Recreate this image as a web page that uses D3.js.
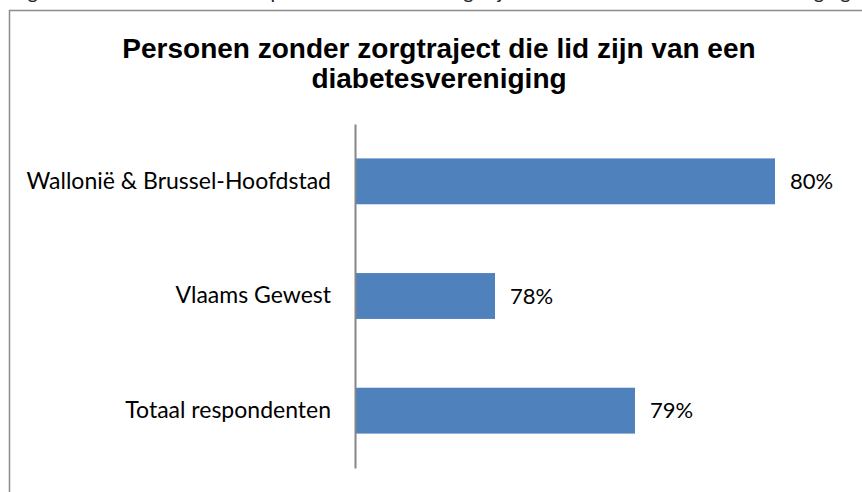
<!DOCTYPE html>
<html>
<head>
<meta charset="utf-8">
<script src="https://cdn.jsdelivr.net/npm/d3@7"></script>
<style>
  body { margin: 0; background: #fff; }
  svg { display: block; }
</style>
</head>
<body>
<svg id="chart" width="862" height="492"></svg>
<script>
// data
var categories = ["Wallonië & Brussel-Hoofdstad", "Vlaams Gewest", "Totaal respondenten"];
var values = [80, 78, 79];
var valueLabels = ["80%", "78%", "79%"];
var titleLines = ["Personen zonder zorgtraject die lid zijn van een", "diabetesvereniging"];
var captionAbove = "Figuur 12: Aandeel van de respondenten zonder zorgtraject dat lid is van een diabetesvereniging";

var svg = d3.select("#chart"),
    width = 862,
    height = 492;

var margin = {left: 355, top: 124, right: 17, bottom: 24};

// caption of the page above the chart, cropped by the picture's top edge
svg.append("text")
  .attr("x", 431)
  .attr("y", -1)
  .attr("text-anchor", "middle")
  .attr("font-family", "Lato, 'Open Sans', sans-serif")
  .attr("font-size", 20)
  .attr("fill", "#222")
  .text(captionAbove);

// chart frame
svg.append("rect")
  .attr("x", 9.5)
  .attr("y", 10.5)
  .attr("width", 900)
  .attr("height", 600)
  .attr("fill", "white")
  .attr("stroke", "#8c8c8c")
  .attr("stroke-width", 1.5);

// title
svg.append("g").selectAll("text")
  .data(titleLines)
  .enter().append("text")
  .attr("x", 439)
  .attr("y", function(d, i) { return 58 + i * 30; })
  .attr("text-anchor", "middle")
  .attr("font-family", "'Liberation Sans', Arial, sans-serif")
  .attr("font-weight", "bold")
  .attr("font-size", 28)
  .attr("fill", "#000")
  .text(function(d) { return d; });

var x = d3.scaleLinear()
  .domain([77, 80.5])
  .range([margin.left, width - margin.right]);

var y = d3.scaleBand()
  .domain(categories)
  .range([margin.top, height - margin.bottom])
  .paddingInner(0.6)
  .paddingOuter(0.3);

// bars
svg.append("g").selectAll("rect")
  .data(values)
  .enter().append("rect")
  .attr("x", x(77))
  .attr("y", function(d, i) { return y(categories[i]); })
  .attr("width", function(d) { return x(d) - x(77); })
  .attr("height", y.bandwidth())
  .attr("fill", "#4f81bd");

// value labels
svg.append("g").selectAll("text")
  .data(values)
  .enter().append("text")
  .attr("x", function(d) { return x(d) + 15; })
  .attr("y", function(d, i) { return y(categories[i]) + y.bandwidth() / 2; })
  .attr("dy", "0.35em")
  .attr("font-family", "Lato, 'Open Sans', sans-serif")
  .attr("font-size", 22)
  .attr("fill", "#000")
  .text(function(d, i) { return valueLabels[i]; });

// category axis
var axis = svg.append("g")
  .attr("transform", "translate(" + margin.left + ",0)")
  .call(d3.axisLeft(y).tickSize(0).tickPadding(24));

axis.select(".domain")
  .attr("stroke", "#868686")
  .attr("stroke-width", 2);

axis.selectAll("text")
  .attr("font-family", "Lato, 'Open Sans', sans-serif")
  .attr("font-size", 23)
  .attr("fill", "#000");
</script>
</body>
</html>
